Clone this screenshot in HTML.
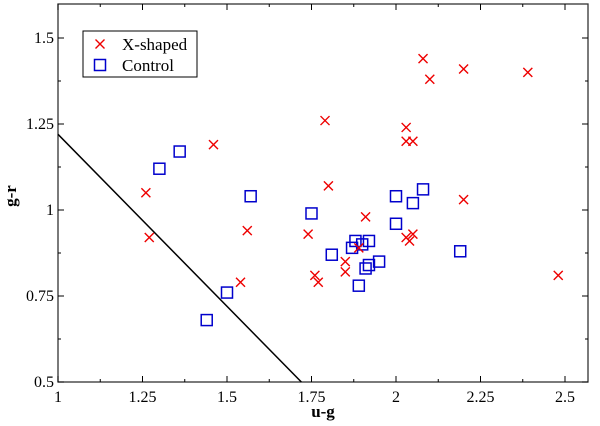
<!DOCTYPE html>
<html><head><meta charset="utf-8"><style>
body{margin:0;background:#fff;width:600px;height:426px;overflow:hidden}
svg{display:block;font-family:"Liberation Serif",serif}
</style></head><body>
<svg id="chart" width="600" height="426" viewBox="0 0 600 426"></svg>
<script>
const xTicks=[1,1.25,1.5,1.75,2,2.25,2.5];
const xTickLabels=["1","1.25","1.5","1.75","2","2.25","2.5"];
const yTicks=[0.5,0.75,1,1.25,1.5];
const yTickLabels=["0.5","0.75","1","1.25","1.5"];
const xShapedUG=[2.08,2.10,2.20,2.39,1.79,1.46,2.03,2.03,2.05,1.26,1.80,2.20,1.91,1.27,1.56,1.74,2.03,2.05,2.04,1.89,1.85,1.85,1.76,1.77,1.54,2.48];
const xShapedGR=[1.44,1.38,1.41,1.40,1.26,1.19,1.24,1.20,1.20,1.05,1.07,1.03,0.98,0.92,0.94,0.93,0.92,0.93,0.91,0.89,0.85,0.82,0.81,0.79,0.79,0.81];
const controlUG=[1.30,1.36,1.57,1.75,2.00,2.08,2.05,2.00,1.88,1.90,1.92,1.87,1.81,1.95,1.92,1.91,1.89,2.19,1.50,1.44];
const controlGR=[1.12,1.17,1.04,0.99,1.04,1.06,1.02,0.96,0.91,0.90,0.91,0.89,0.87,0.85,0.84,0.83,0.78,0.88,0.76,0.68];
const lineUG=[1,1.72];
const lineGR=[1.22,0.5];
const L=58,R=588,T=4,B=382;
const X=v=>L+(v-1)*338;
const Y=v=>B-(v-0.5)*344;
const svg=document.getElementById('chart');
const NS='http://www.w3.org/2000/svg';
function mk(t,a,p){const e=document.createElementNS(NS,t);for(const k in a)e.setAttribute(k,a[k]);(p||svg).appendChild(e);return e;}
const frame=mk('rect',{x:L,y:T,width:R-L,height:B-T,fill:'none',stroke:'#333','stroke-width':1.3});


xTicks.forEach((v,i)=>{
 const t=mk('line',{x1:X(v),x2:X(v),y1:B,y2:B-6,stroke:'#000'});
 
 
 mk('line',{x1:X(v),x2:X(v),y1:T,y2:T+6,stroke:'#000'});
 const l=mk('text',{x:X(v),y:B+20,'text-anchor':'middle','font-size':16});
 l.textContent=xTickLabels[i];
 
 
});
yTicks.forEach((v,i)=>{
 const t=mk('line',{x1:L,x2:L+6,y1:Y(v),y2:Y(v),stroke:'#000'});
 
 
 mk('line',{x1:R,x2:R-6,y1:Y(v),y2:Y(v),stroke:'#000'});
 const l=mk('text',{x:L-4,y:Y(v)+5,'text-anchor':'end','font-size':16});
 l.textContent=yTickLabels[i];
 
 
});
for(let v=1.125;v<2.56;v+=0.25){mk('line',{x1:X(v),x2:X(v),y1:B,y2:B-3,stroke:'#000'});mk('line',{x1:X(v),x2:X(v),y1:T,y2:T+3,stroke:'#000'});}
for(let v=0.625;v<1.6;v+=0.25){mk('line',{x1:L,x2:L+3,y1:Y(v),y2:Y(v),stroke:'#000'});mk('line',{x1:R,x2:R-3,y1:Y(v),y2:Y(v),stroke:'#000'});}
const xl=mk('text',{x:323,y:417,'text-anchor':'middle','font-size':17,'font-weight':'bold'});
xl.textContent='u-g';


const yl=mk('text',{x:16,y:196,'text-anchor':'middle','font-size':17,'font-weight':'bold',transform:'rotate(-90 16 196)'});
yl.textContent='g-r';


const dl=mk('line',{x1:X(lineUG[0]),y1:Y(lineGR[0]),x2:X(lineUG[1]),y2:Y(lineGR[1]),stroke:'#000','stroke-width':1.5});


function cross(x,y,p){mk('path',{d:`M${x-4.5},${y-4.5}L${x+4.5},${y+4.5}M${x-4.5},${y+4.5}L${x+4.5},${y-4.5}`,stroke:'#e00','stroke-width':1.4,fill:'none'},p);}
function sq(x,y,p){mk('rect',{x:x-5.5,y:y-5.5,width:11,height:11,stroke:'#00c','stroke-width':1.5,fill:'none'},p);}
controlUG.forEach((v,i)=>{
 const g=mk('g',{});
 
 
 sq(X(v),Y(controlGR[i]),g);
});
xShapedUG.forEach((v,i)=>{
 const g=mk('g',{});
 
 
 cross(X(v),Y(xShapedGR[i]),g);
});
const lg=mk('g',{});


mk('rect',{x:83,y:31,width:114,height:46,fill:'#fff',stroke:'#000'},lg);
cross(100,44,lg);sq(100,65,lg);
const t1=mk('text',{x:122,y:50,'font-size':17},lg);t1.textContent='X-shaped';


const t2=mk('text',{x:122,y:71,'font-size':17},lg);t2.textContent='Control';


</script>
</body></html>
